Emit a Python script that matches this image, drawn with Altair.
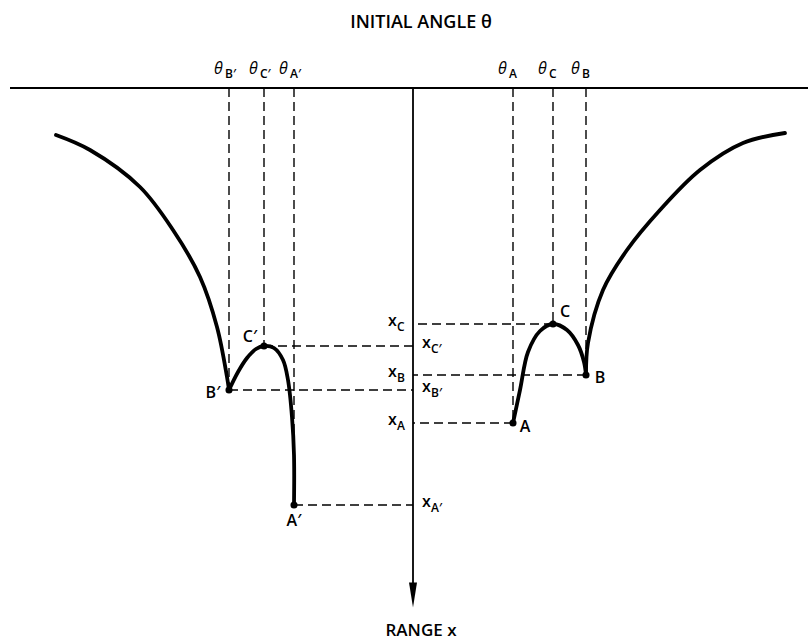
import altair as alt
import pandas as pd

W, H = 808, 640

# Coordinate frame: horizontal = initial angle theta, vertical = range x (downward)
AXIS_THETA = 413          # position of the range axis on the theta scale
TOP_RANGE = 88            # range value of the theta line
ARROW_END = 592

# Named points on the range curves
point_names = ["A", "B", "C", "A′", "B′", "C′"]
point_theta = [513, 586, 553, 294, 229, 264]
point_range = [423, 375, 324, 505, 390, 346]

# Curve branches (theta, range)
outer_left_t = [56, 90, 140, 173, 200, 217, 227, 229]
outer_left_r = [135, 150, 187, 230, 277, 327, 377, 390]
arc_left_t = [229, 238, 247, 256, 264, 274, 283, 288, 292, 294, 294]
arc_left_r = [390, 372, 358, 349, 346, 348, 360, 380, 417, 455, 505]
arc_right_t = [513, 520, 528, 540, 553, 567, 578, 584, 586]
arc_right_r = [423, 390, 352, 331, 324, 330, 345, 362, 375]
outer_right_t = [586, 588, 603, 627, 660, 700, 743, 785]
outer_right_r = [375, 343, 290, 250, 210, 170, 143, 133]

# Which side of the axis each range label sits on
range_label_side = ["left", "left", "left", "right", "right", "right"]

X = lambda f: alt.X(f, type="quantitative", scale=alt.Scale(domain=[0, W]), axis=None)
Y = lambda f: alt.Y(f, type="quantitative", scale=alt.Scale(domain=[0, H], reverse=True), axis=None)

pts = pd.DataFrame({"name": point_names, "t": point_theta, "r": point_range,
                    "side": range_label_side})
pts["top"] = TOP_RANGE
pts["axis"] = AXIS_THETA

rows = []
for seg, (ts, rs) in enumerate([(outer_left_t, outer_left_r), (arc_left_t, arc_left_r),
                                (arc_right_t, arc_right_r), (outer_right_t, outer_right_r)]):
    for i, (t, r) in enumerate(zip(ts, rs)):
        rows.append({"seg": seg, "i": i, "t": t, "r": r})
curves = pd.DataFrame(rows)

dash = [9, 5]
black = "#000000"

# Theta baseline and range axis
base = alt.Chart(pd.DataFrame({"t": [10], "t2": [W], "r": [TOP_RANGE]})).mark_rule(
    color=black, strokeWidth=1.8).encode(x=X("t"), x2="t2", y=Y("r"))
axis = alt.Chart(pd.DataFrame({"t": [AXIS_THETA], "r": [TOP_RANGE], "r2": [ARROW_END]})).mark_rule(
    color=black, strokeWidth=1.8).encode(x=X("t"), y=Y("r"), y2="r2")
arrow = alt.Chart(pd.DataFrame({"t": [AXIS_THETA], "r": [595]})).mark_point(
    shape="M -0.32 -1 L 0.32 -1 L 0 1 Z", size=625, filled=True, color=black, opacity=1
).encode(x=X("t"), y=Y("r"))

# Dashed projections
vdash = alt.Chart(pts).mark_rule(color=black, strokeWidth=1.4, strokeDash=dash).encode(
    x=X("t"), y=Y("top"), y2="r")
hdash = alt.Chart(pts).mark_rule(color=black, strokeWidth=1.4, strokeDash=dash).encode(
    x=X("t"), x2="axis", y=Y("r"))

# Thick curves and end points
lines = alt.Chart(curves).mark_line(interpolate="catmull-rom", color=black, strokeWidth=3.8,
                                    strokeCap="round").encode(
    x=X("t"), y=Y("r"), detail="seg:N", order="i:Q")
dots = alt.Chart(pts).mark_circle(size=50, color=black, opacity=1).encode(x=X("t"), y=Y("r"))

font = "Open Sans"
weight = 600

# Point labels
pl = pd.DataFrame({"name": point_names, "t": point_theta, "r": point_range,
                   "dx": [12, 14, 12, 0, -16, -14], "dy": [4, 3, -12, 16, 3, -9]})
pl["tl"] = pl["t"] + pl["dx"]
pl["rl"] = pl["r"] + pl["dy"]
point_labels = alt.Chart(pl).mark_text(font=font, fontSize=16, fontWeight=weight, color=black,
                                       baseline="middle").encode(
    x=X("tl"), y=Y("rl"), text="name:N")

# Theta labels along the top line (theta with subscript)
tl = pd.DataFrame({"sub": point_names, "t": point_theta})
tl["main_t"] = tl["t"] - 15
tl["sub_t"] = tl["t"] - 4
tl["main_r"] = 74
tl["sub_r"] = 78
tl["main"] = "θ"
theta_main = alt.Chart(tl).mark_text(font=font, fontSize=16, fontStyle="italic", color=black,
                                     align="left", baseline="alphabetic").encode(
    x=X("main_t"), y=Y("main_r"), text="main:N")
theta_sub = alt.Chart(tl).mark_text(font=font, fontSize=12, fontWeight=weight, color=black,
                                    align="left", baseline="alphabetic").encode(
    x=X("sub_t"), y=Y("sub_r"), text="sub:N")

# Range labels beside the axis (x with subscript)
rl = pd.DataFrame({"sub": point_names, "r": point_range, "side": range_label_side})
rl["main_t"] = [AXIS_THETA - 25 if s == "left" else AXIS_THETA + 9 for s in rl["side"]]
rl["sub_t"] = rl["main_t"] + 9
rl["main_r"] = rl["r"] + 2
rl["sub_r"] = rl["r"] + 7
rl["main"] = "x"
range_main = alt.Chart(rl).mark_text(font=font, fontSize=16, fontWeight=weight, color=black,
                                     align="left", baseline="alphabetic").encode(
    x=X("main_t"), y=Y("main_r"), text="main:N")
range_sub = alt.Chart(rl).mark_text(font=font, fontSize=12, fontWeight=weight, color=black,
                                    align="left", baseline="alphabetic").encode(
    x=X("sub_t"), y=Y("sub_r"), text="sub:N")

# Axis titles
titles = alt.Chart(pd.DataFrame({"txt": ["INITIAL ANGLE θ", "RANGE x"],
                                 "t": [421, 421], "r": [23, 631],
                                 "size": [18, 17]})).mark_text(
    font=font, fontWeight=weight, color=black, baseline="middle").encode(
    x=X("t"), y=Y("r"), text="txt:N",
    size=alt.Size("size:Q", scale=None, legend=None))

chart = alt.layer(base, axis, arrow, vdash, hdash, lines, dots, point_labels,
                  theta_main, theta_sub, range_main, range_sub, titles).properties(
    width=W, height=H, padding=0, autosize=alt.AutoSizeParams(type="none"),
    background="white"
).configure_view(stroke=None)

chart.save("out.html", embed_options={"renderer": "svg", "actions": False})
